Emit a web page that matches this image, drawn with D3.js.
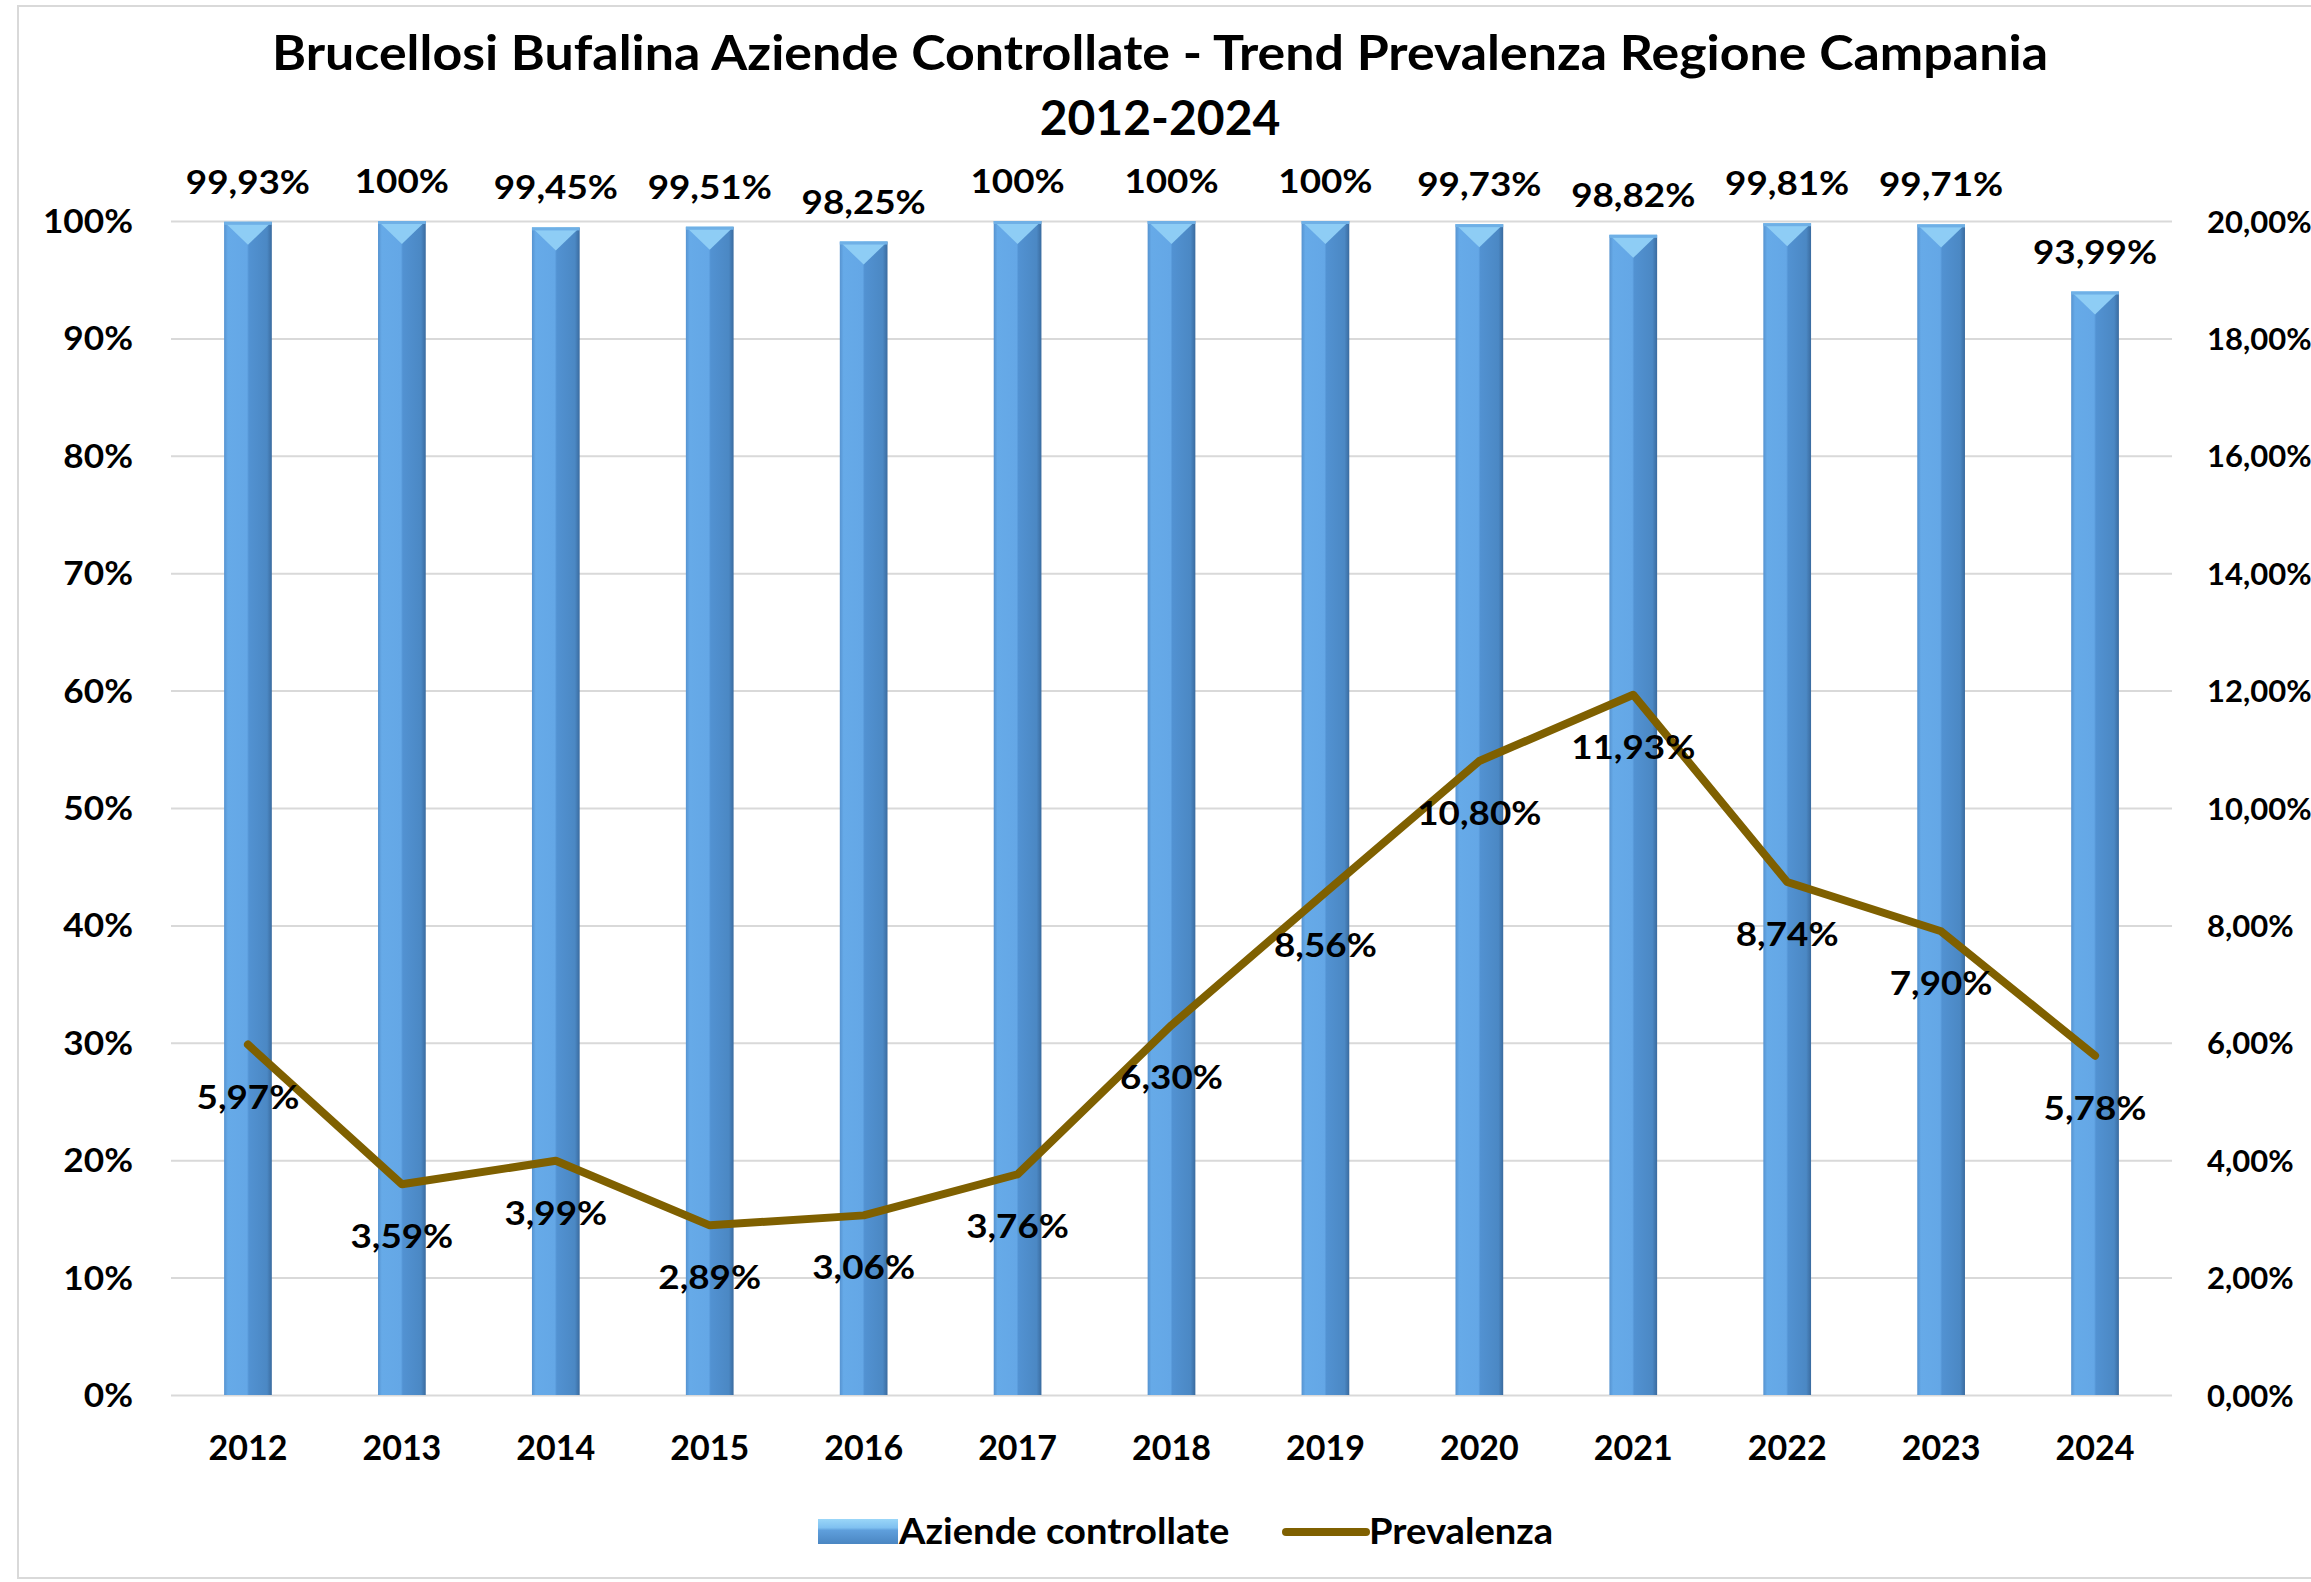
<!DOCTYPE html>
<html>
<head>
<meta charset="utf-8">
<script src="https://cdn.jsdelivr.net/npm/d3@7"></script>
<style>
  body { margin: 0; background: #fff; }
  svg text { font-family: Lato, "Open Sans", sans-serif; font-weight: bold; fill: #000; }
</style>
</head>
<body>
<div class="chart"></div>
<script>
// data
var years = ["2012", "2013", "2014", "2015", "2016", "2017", "2018", "2019", "2020", "2021", "2022", "2023", "2024"];
var aziende = [99.93, 100, 99.45, 99.51, 98.25, 100, 100, 100, 99.73, 98.82, 99.81, 99.71, 93.99];
var prevalenza = [5.97, 3.59, 3.99, 2.89, 3.06, 3.76, 6.30, 8.56, 10.80, 11.93, 8.74, 7.90, 5.78];
var leftTicks = [0, 10, 20, 30, 40, 50, 60, 70, 80, 90, 100];
var rightTicks = [0, 2, 4, 6, 8, 10, 12, 14, 16, 18, 20];
var titleLines = ["Brucellosi Bufalina Aziende Controllate - Trend Prevalenza Regione Campania", "2012-2024"];
var legendLabels = ["Aziende controllate", "Prevalenza"];

var W = 2311, H = 1582;
var plot = {left: 171, right: 2172, top: 221, bottom: 1395};
var lineColor = "#7f6000";

var it = d3.formatLocale({decimal: ",", thousands: ".", grouping: [3], currency: ["", "€"]});
var f2 = it.format(".2f");
function pct2(v) { return f2(v) + "%"; }
function barLabel(v) { return v === 100 ? "100%" : pct2(v); }

// the original font is wider than Lato, so widen the glyphs a little
function stretch(sel, k) {
    sel.each(function(){
        var l = this.getComputedTextLength();
        d3.select(this).attr("textLength", l * k).attr("lengthAdjust", "spacingAndGlyphs");
    });
}

var svg = d3.select(".chart").append("svg")
    .attr("width", W)
    .attr("height", H);

svg.append("rect").attr("width", W).attr("height", H).attr("fill", "#fff");
// chart frame
svg.append("rect")
    .attr("x", 18).attr("y", 6)
    .attr("width", W + 50).attr("height", H - 10)
    .attr("fill", "none").attr("stroke", "#d9d9d9").attr("stroke-width", 2);

var defs = svg.append("defs");
var g1 = defs.append("linearGradient").attr("id", "barGrad").attr("x1", 0).attr("x2", 1).attr("y1", 0).attr("y2", 0);
[["0%", "#5693d0"], ["8%", "#66aae8"], ["48%", "#64a7e6"], ["52%", "#5292d2"], ["90%", "#4b88c4"], ["100%", "#3a6b9f"]]
    .forEach(function(s){ g1.append("stop").attr("offset", s[0]).attr("stop-color", s[1]); });
var g2 = defs.append("linearGradient").attr("id", "legGrad").attr("x1", 0).attr("x2", 0).attr("y1", 0).attr("y2", 1);
[["0%", "#9ad6f8"], ["35%", "#7fc0f0"], ["45%", "#5f9fdc"], ["100%", "#4a86c2"]]
    .forEach(function(s){ g2.append("stop").attr("offset", s[0]).attr("stop-color", s[1]); });

var x = d3.scaleBand()
    .domain(years)
    .range([plot.left, plot.right])
    .paddingInner(0.69)
    .paddingOuter(0.345);

var yL = d3.scaleLinear().domain([0, 100]).range([plot.bottom, plot.top]);
var yR = d3.scaleLinear().domain([0, 20]).range([plot.bottom, plot.top]);

// gridlines
svg.append("g")
    .attr("transform", "translate(" + plot.left + ",0)")
    .call(d3.axisLeft(yL).tickValues(leftTicks).tickSize(-(plot.right - plot.left)).tickFormat(""))
    .call(function(g){ g.select(".domain").remove(); })
    .selectAll("line").attr("stroke", "#d9d9d9").attr("stroke-width", 2);

// left axis
svg.append("g")
    .attr("transform", "translate(133,0)")
    .call(d3.axisLeft(yL).tickValues(leftTicks).tickSize(0).tickPadding(0).tickFormat(function(d){ return d + "%"; }))
    .call(function(g){ g.select(".domain").remove(); })
    .selectAll("text")
    .style("font-size", "32px")
    .style("font-family", "Lato, sans-serif")
    .attr("dy", "0.36em")
    .call(stretch, 1.1);

// right axis (kept inside the picture)
svg.append("g")
    .attr("transform", "translate(2207,0)")
    .call(d3.axisRight(yR).tickValues(rightTicks).tickSize(0).tickPadding(0).tickFormat(pct2))
    .call(function(g){ g.select(".domain").remove(); })
    .selectAll("text")
    .style("font-size", "31px")
    .style("font-family", "Lato, sans-serif")
    .attr("dy", "0.36em");

// x axis
svg.append("g")
    .attr("transform", "translate(0," + plot.bottom + ")")
    .call(d3.axisBottom(x).tickSize(0).tickPadding(0))
    .call(function(g){ g.select(".domain").remove(); })
    .selectAll("text")
    .style("font-size", "34px")
    .style("font-family", "Lato, sans-serif")
    .attr("y", 65)
    .attr("dy", 0);

// bars
var bars = svg.selectAll(".bar")
    .data(aziende)
    .enter().append("g")
    .attr("class", "bar");

bars.append("rect")
    .attr("x", function(d, i){ return x(years[i]); })
    .attr("y", function(d){ return yL(d); })
    .attr("width", x.bandwidth())
    .attr("height", function(d){ return yL(0) - yL(d); })
    .attr("fill", "url(#barGrad)");

bars.append("path")
    .attr("d", function(d, i){
        var x0 = x(years[i]), w = x.bandwidth(), t = yL(d);
        return "M" + x0 + "," + t + "L" + (x0 + w) + "," + t + "L" + (x0 + w / 2) + "," + (t + 23) + "Z";
    })
    .attr("fill", "#8ecdf5");

bars.append("rect")
    .attr("x", function(d, i){ return x(years[i]); })
    .attr("y", function(d){ return yL(d); })
    .attr("width", x.bandwidth())
    .attr("height", 3)
    .attr("fill", "#6fb0e6");

// bar labels
svg.selectAll(".barLabel")
    .data(aziende)
    .enter().append("text")
    .attr("class", "barLabel")
    .attr("x", function(d, i){ return x(years[i]) + x.bandwidth() / 2; })
    .attr("y", function(d){ return yL(d) - 28; })
    .attr("text-anchor", "middle")
    .style("font-size", "32px")
    .text(barLabel)
    .call(stretch, 1.15);

// prevalence line
var line = d3.line()
    .x(function(d, i){ return x(years[i]) + x.bandwidth() / 2; })
    .y(function(d){ return yR(d); });

svg.append("path")
    .datum(prevalenza)
    .attr("d", line)
    .attr("fill", "none")
    .attr("stroke", lineColor)
    .attr("stroke-width", 8)
    .attr("stroke-linejoin", "round")
    .attr("stroke-linecap", "round");

svg.selectAll(".lineLabel")
    .data(prevalenza)
    .enter().append("text")
    .attr("class", "lineLabel")
    .attr("x", function(d, i){ return x(years[i]) + x.bandwidth() / 2; })
    .attr("y", function(d){ return yR(d) + 64; })
    .attr("text-anchor", "middle")
    .style("font-size", "32px")
    .text(pct2)
    .call(stretch, 1.15);

// title
svg.append("text")
    .attr("x", 1160).attr("y", 70)
    .attr("text-anchor", "middle")
    .attr("textLength", 1776)
    .attr("lengthAdjust", "spacingAndGlyphs")
    .style("font-size", "48px")
    .text(titleLines[0]);

svg.append("text")
    .attr("x", 1160).attr("y", 135)
    .attr("text-anchor", "middle")
    .style("font-size", "48px")
    .text(titleLines[1]);

// legend
var leg = svg.append("g");
leg.append("rect")
    .attr("x", 818).attr("y", 1519).attr("width", 80).attr("height", 25)
    .attr("fill", "url(#legGrad)");
leg.append("text")
    .attr("x", 899).attr("y", 1544)
    .style("font-size", "36px")
    .text(legendLabels[0])
    .call(stretch, 1.06);
leg.append("line")
    .attr("x1", 1286).attr("x2", 1366)
    .attr("y1", 1532).attr("y2", 1532)
    .attr("stroke", lineColor).attr("stroke-width", 8)
    .attr("stroke-linecap", "round");
leg.append("text")
    .attr("x", 1369).attr("y", 1544)
    .style("font-size", "36px")
    .text(legendLabels[1])
    .call(stretch, 1.06);
</script>
</body>
</html>
